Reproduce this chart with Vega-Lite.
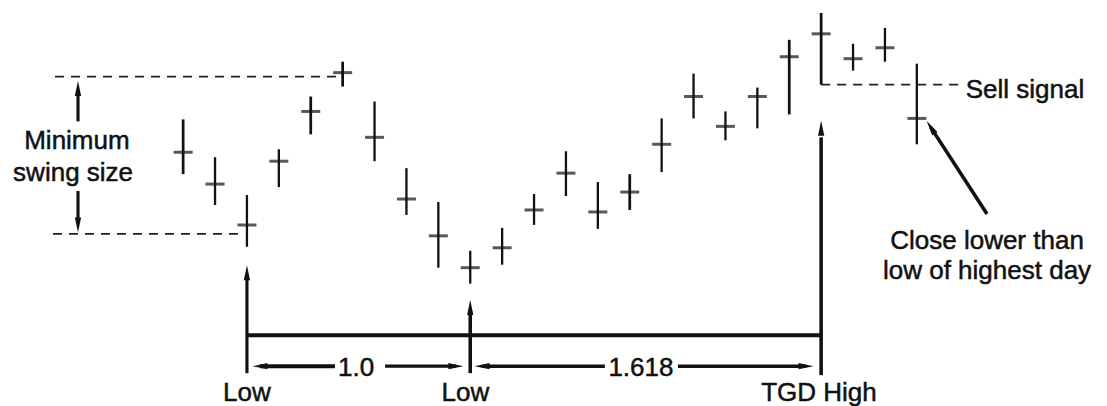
{
  "$schema": "https://vega.github.io/schema/vega-lite/v6.json",
  "width": 1107,
  "height": 406,
  "padding": 0,
  "autosize": {"type": "fit", "contains": "padding"},
  "background": "white",
  "config": {"view": {"stroke": null}},
  "datasets": {
    "bars": [
      {"day": 1, "high": 286, "low": 231, "close": 253, "weight": "heavy"},
      {"day": 2, "high": 248, "low": 200, "close": 221, "weight": "light"},
      {"day": 3, "high": 210, "low": 158, "close": 180, "weight": "light"},
      {"day": 4, "high": 256, "low": 218, "close": 244, "weight": "light"},
      {"day": 5, "high": 309, "low": 271, "close": 294, "weight": "heavy"},
      {"day": 6, "high": 344, "low": 319, "close": 333, "weight": "heavy"},
      {"day": 7, "high": 304, "low": 244, "close": 268, "weight": "light"},
      {"day": 8, "high": 237, "low": 190, "close": 206, "weight": "light"},
      {"day": 9, "high": 203, "low": 137, "close": 169, "weight": "light"},
      {"day": 10, "high": 154, "low": 121, "close": 137, "weight": "light"},
      {"day": 11, "high": 177, "low": 140, "close": 157, "weight": "light"},
      {"day": 12, "high": 211, "low": 180, "close": 195, "weight": "light"},
      {"day": 13, "high": 254, "low": 209, "close": 232, "weight": "light"},
      {"day": 14, "high": 223, "low": 176, "close": 193, "weight": "light"},
      {"day": 15, "high": 231, "low": 195, "close": 213, "weight": "heavy"},
      {"day": 16, "high": 287, "low": 233, "close": 261, "weight": "light"},
      {"day": 17, "high": 332, "low": 287, "close": 309, "weight": "light"},
      {"day": 18, "high": 294, "low": 265, "close": 279, "weight": "light"},
      {"day": 19, "high": 318, "low": 277, "close": 309, "weight": "light"},
      {"day": 20, "high": 366, "low": 291, "close": 349, "weight": "heavy"},
      {"day": 21, "high": 393, "low": 321, "close": 372, "weight": "heavy"},
      {"day": 22, "high": 362, "low": 335, "close": 347, "weight": "light"},
      {"day": 23, "high": 378, "low": 344, "close": 358, "weight": "light"},
      {"day": 24, "high": 342, "low": 261, "close": 287, "weight": "light"}
    ],
    "dashed": [
      {"x": -3.017, "x2": 5.823, "y": 329},
      {"x": -3.08, "x2": 2.813, "y": 171},
      {"x": 21, "x2": 25.353, "y": 321}
    ],
    "lines": [
      {"x": -2.296, "x2": -2.296, "y": 284, "y2": 311, "w": "thin"},
      {"x": -2.296, "x2": -2.296, "y": 214, "y2": 186, "w": "thin"},
      {"x": 3, "x2": 3, "y": 31, "y2": 126, "w": "thin"},
      {"x": 10, "x2": 10, "y": 31, "y2": 90, "w": "mid"},
      {"x": 21, "x2": 21, "y": 29, "y2": 268, "w": "mid"},
      {"x": 3, "x2": 21, "y": 69, "y2": 69, "w": "thick"},
      {"x": 3.41, "x2": 5.76, "y": 38, "y2": 38, "w": "thick"},
      {"x": 7.33, "x2": 9.55, "y": 38, "y2": 38, "w": "thin"},
      {"x": 10.37, "x2": 14.22, "y": 38, "y2": 38, "w": "mid"},
      {"x": 16.51, "x2": 20.525, "y": 38, "y2": 38, "w": "mid"},
      {"x": 26.2, "x2": 24.437, "y": 191, "y2": 278, "w": "mid"}
    ],
    "heads": [
      {"x": -2.296, "y": 317, "dir": "up"},
      {"x": -2.296, "y": 180, "dir": "down"},
      {"x": 3, "y": 132, "dir": "up"},
      {"x": 10, "y": 97, "dir": "up"},
      {"x": 21, "y": 277, "dir": "up"},
      {"x": 3.41, "y": 38, "dir": "left"},
      {"x": 9.55, "y": 38, "dir": "right"},
      {"x": 10.37, "y": 38, "dir": "left"},
      {"x": 20.525, "y": 38, "dir": "right"}
    ],
    "diaghead": [
      {"x": 24.437, "y": 278}
    ],
    "labels": [
      {"x": -2.33, "y": 256, "text": "Minimum"},
      {"x": -2.45, "y": 224, "text": "swing size"},
      {"x": 3, "y": 3, "text": "Low"},
      {"x": 9.85, "y": 3, "text": "Low"},
      {"x": 20.93, "y": 3, "text": "TGD High"},
      {"x": 6.42, "y": 28, "text": "1.0"},
      {"x": 15.35, "y": 28, "text": "1.618"},
      {"x": 27.39, "y": 308, "text": "Sell signal"}
    ],
    "note": [
      {"x": 26.2, "y": 156, "text": "Close lower than\nlow of highest day"}
    ]
  },
  "layer": [
    {
      "data": {"name": "dashed"},
      "mark": {"type": "rule", "color": "#222", "strokeWidth": 1.7, "strokeDash": [9, 7]},
      "encoding": {
        "x": {"field": "x", "type": "quantitative", "scale": {"domain": [-4.741, 29.961], "nice": false, "zero": false}, "axis": null},
        "x2": {"field": "x2"},
        "y": {"field": "y", "type": "quantitative", "scale": {"domain": [0, 406], "nice": false, "zero": false}, "axis": null}
      }
    },
    {
      "data": {"name": "bars"},
      "mark": {"type": "rule", "color": "#111"},
      "encoding": {
        "x": {"field": "day", "type": "quantitative"},
        "y": {"field": "high", "type": "quantitative"},
        "y2": {"field": "low"},
        "strokeWidth": {"field": "weight", "type": "ordinal", "scale": {"domain": ["light", "heavy"], "range": [2.3, 4]}, "legend": null}
      }
    },
    {
      "data": {"name": "bars"},
      "mark": {"type": "tick", "orient": "horizontal", "color": "#111", "size": 19, "thickness": 3},
      "encoding": {
        "x": {"field": "day", "type": "quantitative"},
        "y": {"field": "close", "type": "quantitative"}
      }
    },
    {
      "data": {"name": "lines"},
      "mark": {"type": "rule", "color": "#111"},
      "encoding": {
        "x": {"field": "x", "type": "quantitative"},
        "x2": {"field": "x2"},
        "y": {"field": "y", "type": "quantitative"},
        "y2": {"field": "y2"},
        "strokeWidth": {"field": "w", "type": "ordinal", "scale": {"domain": ["thin", "mid", "thick"], "range": [1.6, 2.3, 3.2]}, "legend": null}
      }
    },
    {
      "data": {"name": "heads"},
      "mark": {"type": "point", "filled": true, "color": "#111", "opacity": 1, "size": 225},
      "encoding": {
        "x": {"field": "x", "type": "quantitative"},
        "y": {"field": "y", "type": "quantitative"},
        "shape": {"field": "dir", "type": "nominal", "scale": {"domain": ["up", "down", "left", "right"], "range": ["M0,-1L0.42,1L-0.42,1Z", "M0,1L0.42,-1L-0.42,-1Z", "M-1,0L1,0.42L1,-0.42Z", "M1,0L-1,0.42L-1,-0.42Z"]}, "legend": null}
      }
    },
    {
      "data": {"name": "diaghead"},
      "mark": {"type": "point", "filled": true, "color": "#111", "opacity": 1, "size": 225, "shape": "M0,-1L0.42,1L-0.42,1Z", "angle": 327},
      "encoding": {
        "x": {"field": "x", "type": "quantitative"},
        "y": {"field": "y", "type": "quantitative"}
      }
    },
    {
      "data": {"name": "labels"},
      "mark": {"type": "text", "font": "Liberation Sans", "fontSize": 26, "color": "#111", "stroke": "#111", "strokeWidth": 0.5, "align": "center", "baseline": "alphabetic"},
      "encoding": {
        "x": {"field": "x", "type": "quantitative"},
        "y": {"field": "y", "type": "quantitative"},
        "text": {"field": "text"}
      }
    },
    {
      "data": {"name": "note"},
      "mark": {"type": "text", "font": "Liberation Sans", "fontSize": 26, "lineHeight": 30, "lineBreak": "\n", "color": "#111", "stroke": "#111", "strokeWidth": 0.5, "align": "center", "baseline": "alphabetic"},
      "encoding": {
        "x": {"field": "x", "type": "quantitative"},
        "y": {"field": "y", "type": "quantitative"},
        "text": {"field": "text"}
      }
    }
  ]
}
